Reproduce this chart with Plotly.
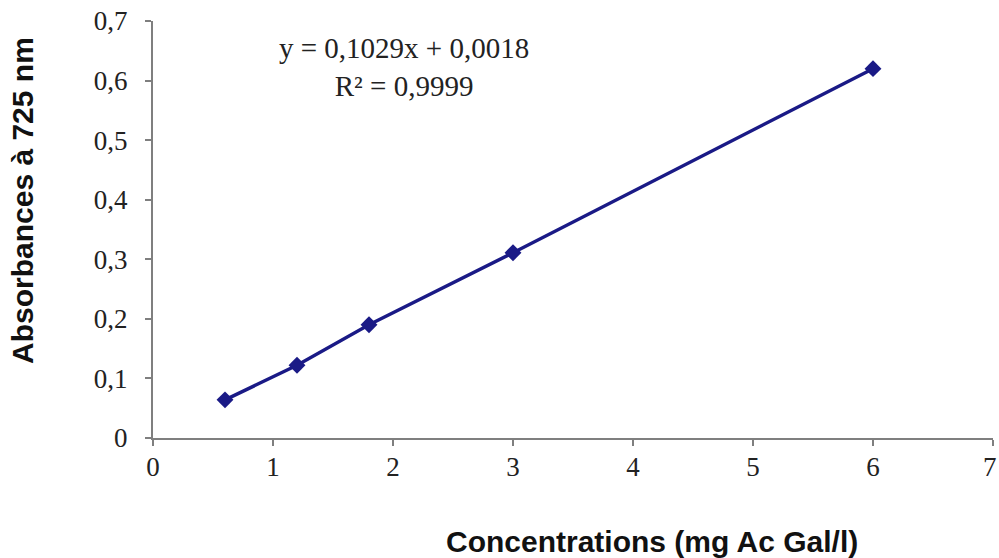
import plotly.graph_objects as go

conc = [0.6, 1.2, 1.8, 3.0, 6.0]
absorb = [0.064, 0.122, 0.190, 0.311, 0.620]
x_ticks = [0, 1, 2, 3, 4, 5, 6, 7]
x_tick_labels = ["0", "1", "2", "3", "4", "5", "6", "7"]
y_ticks = [0, 0.1, 0.2, 0.3, 0.4, 0.5, 0.6, 0.7]
equation = "y = 0,1029x + 0,0018"
r2 = "R² = 0,9999"
x_title = "Concentrations (mg Ac Gal/l)"
y_title = "Absorbances à 725 nm"

navy = "#1a1a86"
axis_col = "#7f7f7f"
serif = "Liberation Serif, Times New Roman, serif"
sans = "Liberation Sans, Arial, sans-serif"

fig = go.Figure()
fig.add_trace(go.Scatter(
    x=conc, y=absorb, mode="lines+markers",
    line=dict(color=navy, width=3.4),
    marker=dict(symbol="diamond", size=13, color=navy),
    showlegend=False, hoverinfo="skip",
))

W, H = 999, 558
L, R, T, B = 153, 6, 21, 120

# last x tick label sits on the page edge; draw it as an edge-anchored annotation
shown_labels = x_tick_labels[:-1] + [""]

fig.update_layout(
    width=W, height=H,
    margin=dict(l=L, r=R, t=T, b=B),
    paper_bgcolor="white", plot_bgcolor="white",
    separators=", ",
    font=dict(family=serif, size=27, color="#222222"),
    xaxis=dict(
        range=[0, 7], tickvals=x_ticks, ticktext=shown_labels,
        showgrid=False, zeroline=False,
        showline=True, linecolor=axis_col, linewidth=2,
        ticks="outside", ticklen=6, tickwidth=2, tickcolor=axis_col,
        tickfont=dict(family=serif, size=27, color="#222222"),
        ticklabelstandoff=-2,
    ),
    yaxis=dict(
        range=[0, 0.7], tickvals=y_ticks, showgrid=False, zeroline=False,
        showline=True, linecolor=axis_col, linewidth=2,
        ticks="outside", ticklen=6, tickwidth=2, tickcolor=axis_col,
        tickfont=dict(family=serif, size=27, color="#222222"),
        ticklabelstandoff=12,
    ),
    annotations=[
        dict(text=x_tick_labels[-1], xref="paper", yref="paper",
             x=1 + R / (W - L - R), y=-(467 - (H - B)) / (H - T - B),
             xanchor="right", yanchor="middle", showarrow=False,
             font=dict(family=serif, size=27, color="#222222")),
        dict(text=equation + "<br>" + r2, xref="paper", yref="paper",
             x=(404 - L) / (W - L - R), y=1 - (67 - T) / (H - T - B),
             xanchor="center", yanchor="middle", showarrow=False, align="center",
             font=dict(family=serif, size=29, color="#222222")),
        dict(text="<b>" + x_title + "</b>", xref="paper", yref="paper",
             x=(652 - L) / (W - L - R), y=-(541 - (H - B)) / (H - T - B),
             xanchor="center", yanchor="middle", showarrow=False,
             font=dict(family=sans, size=30, color="#111111")),
        dict(text="<b>" + y_title + "</b>", xref="paper", yref="paper",
             x=-(L - 22) / (W - L - R), y=1 - (201 - T) / (H - T - B),
             xanchor="center", yanchor="middle", showarrow=False, textangle=-90,
             font=dict(family=sans, size=30, color="#111111")),
    ],
)

post = (
    "document.body.style.margin='0';document.body.style.overflow='hidden';"
)
fig.write_html("out.html", config={"displayModeBar": False}, post_script=post)
